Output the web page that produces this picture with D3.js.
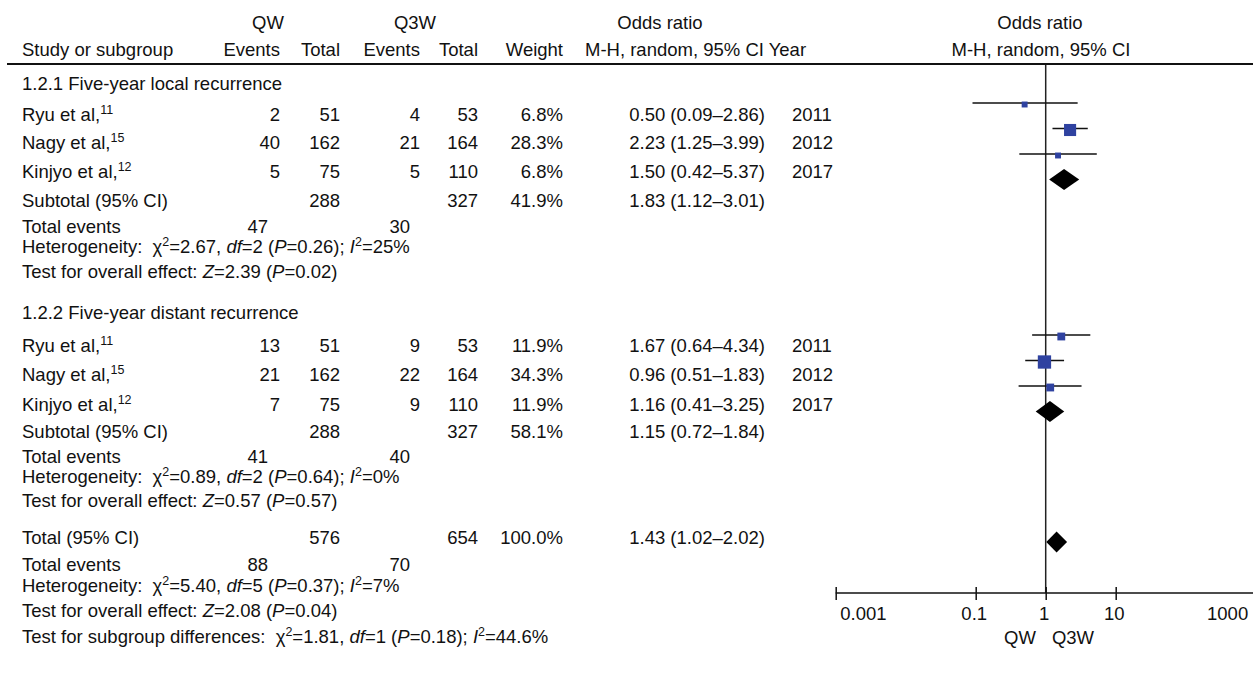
<!DOCTYPE html>
<html>
<head>
<meta charset="utf-8">
<script src="https://cdn.jsdelivr.net/npm/d3@7"></script>
<style>
  body { margin: 0; background: #fff; }
  svg text { font-family: "Liberation Sans", Arial, sans-serif; font-size: 18.5px; fill: #111; white-space: pre; }
</style>
</head>
<body>
<svg id="chart"></svg>
<script>
// ---- data ----
const groupNames = ['1.2.1 Five-year local recurrence', '1.2.2 Five-year distant recurrence'];
const studies = ['Ryu et al,', 'Nagy et al,', 'Kinjyo et al,'];
const refs = [11, 15, 12];
const years = [2011, 2012, 2017];

const qwEvents = [[2, 40, 5], [13, 21, 7]];
const qwTotal = [[51, 162, 75], [51, 162, 75]];
const q3wEvents = [[4, 21, 5], [9, 22, 9]];
const q3wTotal = [[53, 164, 110], [53, 164, 110]];
const weights = [[6.8, 28.3, 6.8], [11.9, 34.3, 11.9]];
const orEst = [[0.50, 2.23, 1.50], [1.67, 0.96, 1.16]];
const orLow = [[0.09, 1.25, 0.42], [0.64, 0.51, 0.41]];
const orHigh = [[2.86, 3.99, 5.37], [4.34, 1.83, 3.25]];

// subgroup 1, subgroup 2, overall
const sumQwTotal = [288, 288, 576];
const sumQ3wTotal = [327, 327, 654];
const sumWeight = [41.9, 58.1, 100.0];
const sumOr = [1.83, 1.15, 1.43];
const sumLow = [1.12, 0.72, 1.02];
const sumHigh = [3.01, 1.84, 2.02];
const sumQwEvents = [47, 41, 88];
const sumQ3wEvents = [30, 40, 70];
const hetChi = ['2.67', '0.89', '5.40'];
const hetDf = [2, 2, 5];
const hetP = ['0.26', '0.64', '0.37'];
const hetI2 = ['25%', '0%', '7%'];
const effectZ = ['2.39', '0.57', '2.08'];
const effectP = ['0.02', '0.57', '0.04'];
const subgroupChi = '1.81';
const subgroupDf = 1;
const subgroupP = '0.18';
const subgroupI2 = '44.6%';

const axisTicks = [0.001, 0.1, 1, 10, 1000];
const axisTickLabels = ['0.001', '0.1', '1', '10', '1000'];

// ---- layout ----
const W = 1253, H = 673;
const col = { name: 22, qwEv: 280, qwTot: 340, q3Ev: 420, q3Tot: 478, weight: 563, or: 765, year: 792 };
const groupTop = [83, 312];
// offsets inside a subgroup block: heading, 3 studies, subtotal, events, heterogeneity, effect
const blockOffsets = [
  [0, 31, 59, 88, 117, 143, 163, 188],
  [0, 33, 62, 92, 119, 144, 164, 188],
];
const plotTop = [103, 335];
const plotStep = 25.5;
const totalDiamondY = 542;
const axisY = 593;

const svg = d3.select('#chart').attr('width', W).attr('height', H);
svg.append('rect').attr('width', W).attr('height', H).attr('fill', '#fff');

const x = d3.scaleLog().domain([0.001, 1000]).range([835.7, 1255.7]);
const side = d3.scaleSqrt().domain([0, 34.3]).range([0, 13.3]);
const fmt2 = d3.format('.2f');
const ciText = (e, l, h) => `${fmt2(e)} (${fmt2(l)}\u2013${fmt2(h)})`;

// text with styled pieces: {t, i (italic), sup}
function rich(xPos, yPos, segs, anchor) {
  const t = svg.append('text')
    .attr('x', xPos).attr('y', yPos).attr('dy', '0.36em')
    .attr('text-anchor', anchor || 'start');
  let raised = false;
  segs.forEach((s) => {
    const ts = t.append('tspan').text(s.t);
    if (s.i) ts.style('font-style', 'italic');
    if (s.sup) {
      ts.style('font-size', '12.5px');
      if (!raised) { ts.attr('dy', -7); raised = true; }
    } else if (raised) { ts.attr('dy', 7); raised = false; }
  });
  return t;
}
const plain = (xPos, yPos, str, anchor) => rich(xPos, yPos, [{ t: String(str) }], anchor);

function hetSegs(chi, df, p, i2, label) {
  return [
    { t: label || 'Heterogeneity:  ' }, { t: '\u03c7' }, { t: '2', sup: true },
    { t: `=${chi}, ` }, { t: 'df', i: true }, { t: `=${df} (` }, { t: 'P', i: true },
    { t: `=${p}); ` }, { t: 'I', i: true }, { t: '2', sup: true }, { t: `=${i2}` },
  ];
}
function effectSegs(z, p) {
  return [{ t: 'Test for overall effect: ' }, { t: 'Z', i: true }, { t: `=${z} (` },
    { t: 'P', i: true }, { t: `=${p})` }];
}

// ---- header ----
plain(268, 22, 'QW', 'middle');
plain(415, 22, 'Q3W', 'middle');
plain(660, 22, 'Odds ratio', 'middle');
plain(1040, 22, 'Odds ratio', 'middle');
plain(col.name, 49, 'Study or subgroup');
plain(col.qwEv, 49, 'Events', 'end');
plain(col.qwTot, 49, 'Total', 'end');
plain(col.q3Ev, 49, 'Events', 'end');
plain(col.q3Tot, 49, 'Total', 'end');
plain(col.weight, 49, 'Weight', 'end');
plain(585, 49, 'M-H, random, 95% CI Year');
plain(1041, 49, 'M-H, random, 95% CI', 'middle');
svg.append('line').attr('x1', 7).attr('x2', W).attr('y1', 64).attr('y2', 64)
  .attr('stroke', '#111').attr('stroke-width', 2);

// ---- table rows ----
groupNames.forEach((name, g) => {
  const yy = blockOffsets[g].map(o => groupTop[g] + o);
  plain(col.name, yy[0], name);
  studies.forEach((s, i) => {
    const y = yy[1 + i];
    rich(col.name, y, [{ t: s }, { t: String(refs[i]), sup: true }]);
    plain(col.qwEv, y, qwEvents[g][i], 'end');
    plain(col.qwTot, y, qwTotal[g][i], 'end');
    plain(col.q3Ev, y, q3wEvents[g][i], 'end');
    plain(col.q3Tot, y, q3wTotal[g][i], 'end');
    plain(col.weight, y, `${weights[g][i].toFixed(1)}%`, 'end');
    plain(col.or, y, ciText(orEst[g][i], orLow[g][i], orHigh[g][i]), 'end');
    plain(col.year, y, years[i]);
  });
  plain(col.name, yy[4], 'Subtotal (95% CI)');
  plain(col.qwTot, yy[4], sumQwTotal[g], 'end');
  plain(col.q3Tot, yy[4], sumQ3wTotal[g], 'end');
  plain(col.weight, yy[4], `${sumWeight[g].toFixed(1)}%`, 'end');
  plain(col.or, yy[4], ciText(sumOr[g], sumLow[g], sumHigh[g]), 'end');
  plain(col.name, yy[5], 'Total events');
  plain(col.qwEv - 12, yy[5], sumQwEvents[g], 'end');
  plain(col.q3Ev - 10, yy[5], sumQ3wEvents[g], 'end');
  rich(col.name, yy[6], hetSegs(hetChi[g], hetDf[g], hetP[g], hetI2[g]));
  rich(col.name, yy[7], effectSegs(effectZ[g], effectP[g]));
});

// overall block
const ty = [537, 564, 585, 610, 636];
plain(col.name, ty[0], 'Total (95% CI)');
plain(col.qwTot, ty[0], sumQwTotal[2], 'end');
plain(col.q3Tot, ty[0], sumQ3wTotal[2], 'end');
plain(col.weight, ty[0], `${sumWeight[2].toFixed(1)}%`, 'end');
plain(col.or, ty[0], ciText(sumOr[2], sumLow[2], sumHigh[2]), 'end');
plain(col.name, ty[1], 'Total events');
plain(col.qwEv - 12, ty[1], sumQwEvents[2], 'end');
plain(col.q3Ev - 10, ty[1], sumQ3wEvents[2], 'end');
rich(col.name, ty[2], hetSegs(hetChi[2], hetDf[2], hetP[2], hetI2[2]));
rich(col.name, ty[3], effectSegs(effectZ[2], effectP[2]));
rich(col.name, ty[4], hetSegs(subgroupChi, subgroupDf, subgroupP, subgroupI2, 'Test for subgroup differences:  '));

// ---- forest plot ----
const plot = svg.append('g');
plot.append('line')
  .attr('x1', x(1)).attr('x2', x(1)).attr('y1', 65).attr('y2', axisY)
  .attr('stroke', '#222').attr('stroke-width', 1.5);

const diamond = (cx, lo, hi, cy) =>
  `M${lo},${cy}L${cx},${cy - 10.5}L${hi},${cy}L${cx},${cy + 10.5}Z`;

groupNames.forEach((name, g) => {
  const pts = studies.map((s, i) => ({
    est: orEst[g][i], lo: orLow[g][i], hi: orHigh[g][i], w: weights[g][i],
    cy: plotTop[g] + i * plotStep,
  }));
  plot.selectAll(null).data(pts).enter().append('line')
    .attr('x1', d => x(d.lo)).attr('x2', d => x(d.hi))
    .attr('y1', d => d.cy).attr('y2', d => d.cy)
    .attr('stroke', '#111').attr('stroke-width', 1.5);
  plot.selectAll(null).data(pts).enter().append('rect')
    .attr('x', d => x(d.est) - side(d.w) / 2)
    .attr('y', d => d.cy + 1.5 - side(d.w) / 2)
    .attr('width', d => side(d.w)).attr('height', d => side(d.w))
    .attr('fill', '#2f42a0');
  plot.append('path')
    .attr('d', diamond(x(sumOr[g]), x(sumLow[g]), x(sumHigh[g]), plotTop[g] + 3 * plotStep))
    .attr('fill', '#000');
});
plot.append('path')
  .attr('d', diamond(x(sumOr[2]), x(sumLow[2]), x(sumHigh[2]), totalDiamondY))
  .attr('fill', '#000');

// axis
const axis = d3.axisBottom(x).tickValues(axisTicks).tickSize(6).tickSizeOuter(0)
  .tickFormat((d, i) => axisTickLabels[i]);
const ag = svg.append('g').attr('transform', `translate(0,${axisY})`).call(axis);
ag.select('.domain').attr('d', `M${x(0.001)},0H${W}`).attr('stroke', '#111').attr('stroke-width', 1.5);
ag.selectAll('.tick line').attr('y1', -6).attr('y2', 7).attr('stroke', '#111').attr('stroke-width', 1.5);
ag.selectAll('.tick text')
  .attr('y', 14).attr('dy', '0.71em')
  .attr('fill', '#111')
  .style('font-family', '"Liberation Sans", Arial, sans-serif').style('font-size', '18.5px')
  .attr('text-anchor', (d, i) => (i === 0 ? 'start' : i === axisTicks.length - 1 ? 'end' : 'middle'))
  .attr('x', (d, i) => (i === 0 ? 4 : i === axisTicks.length - 1 ? -8 : -2));

plain(1020, 637, 'QW', 'middle');
plain(1073, 637, 'Q3W', 'middle');
</script>
</body>
</html>
